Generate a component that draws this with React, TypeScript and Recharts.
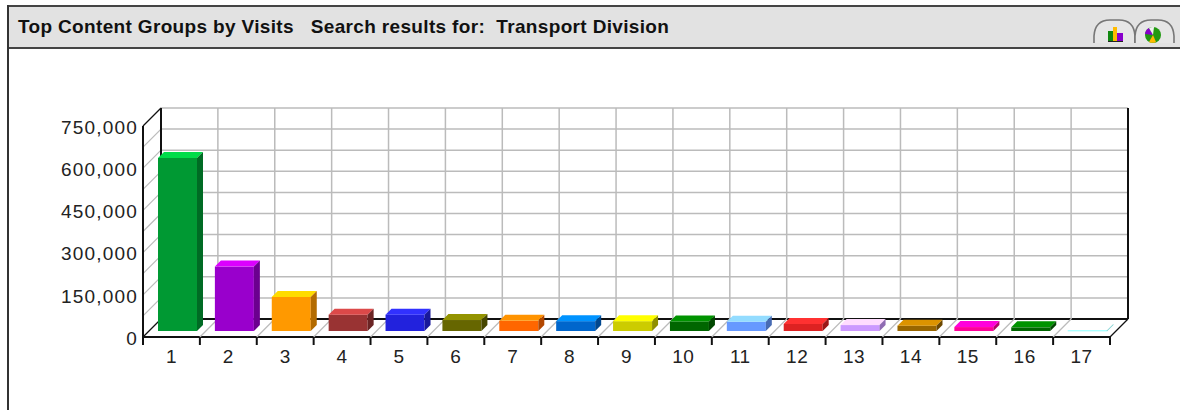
import { BarChart, Bar, XAxis, YAxis, CartesianGrid, Cell } from "recharts";

const categories = ["1", "2", "3", "4", "5", "6", "7", "8", "9", "10", "11", "12", "13", "14", "15", "16", "17"];
const visits = [615000, 229000, 121000, 58000, 58000, 39000, 36000, 35000, 35000, 34000, 33000, 25000, 21000, 19000, 14000, 13000, 1500];
const barColors = [
  "#009933", "#9900cc", "#ff9900", "#993333", "#2222dd", "#666600", "#ff6600", "#0066cc", "#cccc00",
  "#006600", "#6699ff", "#dd2222", "#cc99ff", "#996600", "#ff0099", "#006600", "#aaffff",
];
const yTicks = [0, 150000, 300000, 450000, 600000, 750000];
const gridValues = [0, 75000, 150000, 225000, 300000, 375000, 450000, 525000, 600000, 675000, 750000];

const data = categories.map((name, i) => ({ name, visits: visits[i] }));

const DEPTH = 18;
const BAR_DEPTH = 6;
const GRID = "#bbbbbb";
const AXIS = "#111111";

function shade(hex: string, k: number) {
  const n = parseInt(hex.slice(1), 16);
  const c = [n >> 16, (n >> 8) & 255, n & 255].map((v) => Math.min(255, Math.round(v * k)));
  return `rgb(${c.join(",")})`;
}

// front face + top + side, pushed a bit into the floor
function Bar3D(props: any) {
  const { x, y, width, height, fill } = props;
  const d = BAR_DEPTH;
  const l = x + 6;
  const r = l + width;
  const t = y - 6;
  const b = t + height;
  // almost empty bars still show as a hairline
  const thin = height < 1;
  return (
    <g>
      <rect x={l} y={t} width={width} height={height} fill={fill} stroke={thin ? fill : "none"} strokeWidth={0.8} />
      {!thin && <polygon points={`${l},${t} ${l + d},${t - d} ${r + d},${t - d} ${r},${t}`} fill={shade(fill, 1.44)} />}
      <polygon
        points={`${r},${t} ${r + d},${t - d} ${r + d},${b - d} ${r},${b}`}
        fill={shade(fill, 0.7)}
        stroke={thin ? shade(fill, 0.85) : "none"}
        strokeWidth={0.8}
      />
    </g>
  );
}

// one grid value: line on the back wall and diagonal on the side wall
function WallLine(props: any) {
  const { x1, x2, y1 } = props;
  const isFloor = y1 > 330;
  const isTop = y1 < 130;
  return (
    <g key={`h-${y1}`}>
      <line x1={x1 + DEPTH} x2={x2 + DEPTH} y1={y1 - DEPTH} y2={y1 - DEPTH} stroke={isFloor ? AXIS : GRID} strokeWidth={isFloor ? 2 : 1.5} />
      <line x1={x1} x2={x1 + DEPTH} y1={y1} y2={y1 - DEPTH} stroke={isFloor || isTop ? AXIS : GRID} strokeWidth={1.2} />
      {isFloor && <line x1={x1} x2={x2} y1={y1} y2={y1} stroke={AXIS} strokeWidth={2} />}
      {isFloor && <line x1={x2} x2={x2 + DEPTH} y1={y1} y2={y1 - DEPTH} stroke={AXIS} strokeWidth={1.2} />}
    </g>
  );
}

// one category edge: line on the back wall, diagonal on the floor, tick under the axis
function WallColumn(props: any) {
  const { x1, y1, y2, index } = props;
  const first = index === 0;
  const last = index === categories.length;
  return (
    <g key={`v-${index}`}>
      <line x1={x1 + DEPTH} x2={x1 + DEPTH} y1={y1 - DEPTH} y2={y2 - DEPTH} stroke={first || last ? AXIS : GRID} strokeWidth={first || last ? 2 : 1.5} />
      {!first && !last && <line x1={x1} x2={x1 + DEPTH} y1={y2} y2={y2 - DEPTH} stroke={GRID} strokeWidth={1.2} />}
      <line x1={x1} x2={x1} y1={y2} y2={y2 + 8} stroke={AXIS} strokeWidth={2} />
      {first && <line x1={x1} x2={x1} y1={y1} y2={y2} stroke={AXIS} strokeWidth={2} />}
    </g>
  );
}

function TabIcons() {
  return (
    <svg width={86} height={28} style={{ position: "absolute", left: 1092, top: 17 }}>
      <path d="M2 26 V19 Q3 3 18 3 H27 Q42 3 43 19 V26" fill="#e6e6e6" stroke="#777777" strokeWidth={1.6} />
      <path d="M43 26 V19 Q44 3 59 3 H66 Q81 3 82 19 V26" fill="#e6e6e6" stroke="#777777" strokeWidth={1.6} />
      <rect x={16} y={14} width={5} height={10} fill="#118811" />
      <rect x={21} y={10} width={4} height={14} fill="#ffbb00" />
      <rect x={25} y={16} width={6} height={8} fill="#8800cc" />
      <rect x={16} y={24} width={15} height={1} fill="#222222" />
      <circle cx={61} cy={18} r={8} fill="#229911" />
      <path d="M61 18 L53 17 A8 8 0 0 1 57 11 Z" fill="#8800cc" />
      <path d="M61 18 L57 25 A8 8 0 0 0 64 25 Z" fill="#ffbb00" />
      <path d="M61 18 L57 11 A8 8 0 0 1 62 10 Z" fill="#f2f2f2" />
    </svg>
  );
}

export default function App() {
  return (
    <div style={{ position: "absolute", left: 0, top: 0, width: 1180, height: 410, background: "#ffffff", overflow: "hidden" }}>
      <div
        style={{
          position: "absolute",
          left: 7,
          top: 5,
          width: 1173,
          height: 40,
          background: "#e2e2e2",
          borderTop: "2px solid #444444",
          borderBottom: "2px solid #444444",
        }}
      />
      <div style={{ position: "absolute", left: 7, top: 5, width: 2, height: 405, background: "#333333" }} />
      <div
        style={{
          position: "absolute",
          left: 18,
          top: 16,
          font: "bold 19px 'Liberation Sans', Arial, sans-serif",
          letterSpacing: 0.34,
          color: "#111111",
          whiteSpace: "pre",
        }}
      >
        {"Top Content Groups by Visits   Search results for:  Transport Division"}
      </div>
      <TabIcons />
      <div style={{ position: "absolute", left: 0, top: 0 }}>
        <BarChart
          width={1180}
          height={410}
          data={data}
          barSize={39}
          margin={{ top: 126, right: 70, bottom: 33, left: 43 }}
          style={{ fontFamily: "'Liberation Sans', Arial, sans-serif" }}
        >
          <CartesianGrid
            horizontalValues={gridValues}
            horizontal={WallLine}
            vertical={WallColumn}
            verticalCoordinatesGenerator={({ offset }: any) =>
              [...categories, ""].map((_, i) => offset.left + (i * offset.width) / categories.length)
            }
          />
          <XAxis
            dataKey="name"
            axisLine={false}
            tickLine={false}
            height={40}
            interval={0}
            tick={{ fill: "#222222", fontSize: 19, letterSpacing: 0.5 }}
            tickMargin={7}
          />
          <YAxis
            domain={[0, 750000]}
            ticks={yTicks}
            axisLine={false}
            tickLine={false}
            width={100}
            interval={0}
            tick={{ fill: "#222222", fontSize: 19, letterSpacing: 1.2, dy: 1 }}
            tickMargin={-1}
            tickFormatter={(v: number) => v.toLocaleString("en-US")}
          />
          <Bar dataKey="visits" shape={Bar3D} isAnimationActive={false}>
            {data.map((d, i) => (
              <Cell key={d.name} fill={barColors[i]} />
            ))}
          </Bar>
        </BarChart>
      </div>
    </div>
  );
}
